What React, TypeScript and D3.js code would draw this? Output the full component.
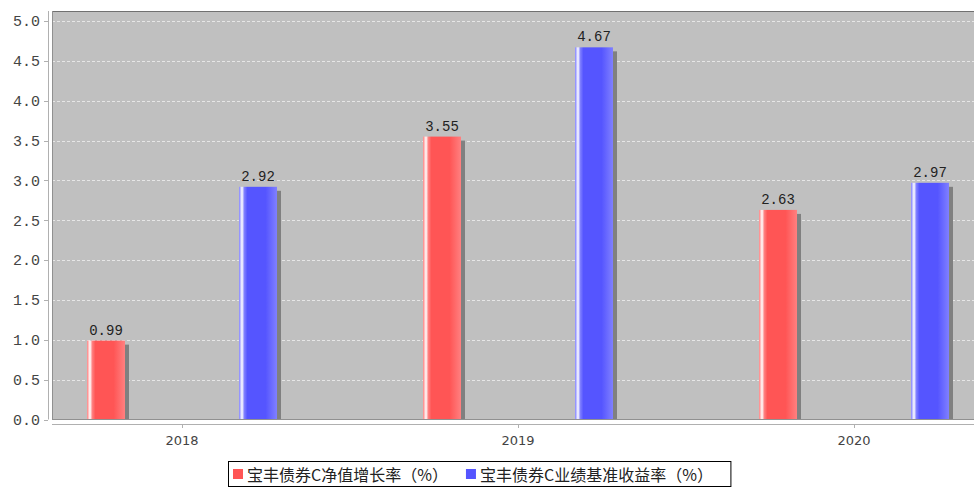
import { useEffect, useRef } from 'react'
import * as d3 from 'd3'

const years = ['2018', '2019', '2020']
const seriesNames = ['宝丰债券C净值增长率（%）', '宝丰债券C业绩基准收益率（%）']
const navGrowth = [0.99, 3.55, 2.63]
const benchmarkReturn = [2.92, 4.67, 2.97]
const yTicks = [0, 0.5, 1, 1.5, 2, 2.5, 3, 3.5, 4, 4.5, 5]

const W = 974
const H = 487

export default function App() {
  const svgRef = useRef<SVGSVGElement | null>(null)

  useEffect(() => {
    const svgElement = svgRef.current
    if (!svgElement) return
    const svg = d3.select(svgElement)
    svg.selectAll('*').remove()

    const plot = { left: 52, top: 11, right: 975, bottom: 419.5 }
    const series = [
      { name: seriesNames[0], values: navGrowth, base: '#ff5555', light: '#ff8080', id: 'gRed' },
      { name: seriesNames[1], values: benchmarkReturn, base: '#5555ff', light: '#8080ff', id: 'gBlue' },
    ]

    const defs = svg.append('defs')
    series.forEach((s) => {
      const g = defs.append('linearGradient').attr('id', s.id).attr('x1', 0).attr('x2', 1).attr('y1', 0).attr('y2', 0)
      g.append('stop').attr('offset', '0%').attr('stop-color', s.light)
      g.append('stop').attr('offset', '8%').attr('stop-color', '#ffffff')
      g.append('stop').attr('offset', '14%').attr('stop-color', s.light)
      g.append('stop').attr('offset', '22%').attr('stop-color', s.base)
      g.append('stop').attr('offset', '70%').attr('stop-color', s.base)
      g.append('stop').attr('offset', '100%').attr('stop-color', s.light)
    })
    defs
      .append('clipPath')
      .attr('id', 'plotClip')
      .append('rect')
      .attr('x', plot.left)
      .attr('y', plot.top)
      .attr('width', plot.right - plot.left)
      .attr('height', plot.bottom - plot.top)

    const y = d3.scaleLinear().domain([0, 5.126]).range([plot.bottom, plot.top])
    const x = d3.scalePoint<string>().domain(years).range([plot.left + 130, plot.right - 121])
    const sub = d3.scaleBand<number>().domain([0, 1]).range([-95, 95]).paddingInner(0.75).paddingOuter(0)

    // plot background
    svg
      .append('rect')
      .attr('x', plot.left)
      .attr('y', plot.top)
      .attr('width', plot.right - plot.left)
      .attr('height', plot.bottom - plot.top)
      .attr('fill', '#c0c0c0')

    // gridlines
    svg
      .append('g')
      .selectAll('line')
      .data(yTicks.filter((d) => d > 0))
      .join('line')
      .attr('x1', plot.left)
      .attr('x2', plot.right)
      .attr('y1', (d) => Math.round(y(d)) + 0.5)
      .attr('y2', (d) => Math.round(y(d)) + 0.5)
      .attr('stroke', '#e6e6e6')
      .attr('stroke-dasharray', '3,2')

    const bars = svg.append('g').attr('clip-path', 'url(#plotClip)')
    const flat = series.flatMap((s, si) =>
      s.values.map((v, i) => ({ v, si, year: years[i], fill: `url(#${s.id})` }))
    )

    // shadows
    bars
      .selectAll('rect.shadow')
      .data(flat)
      .join('rect')
      .attr('class', 'shadow')
      .attr('x', (d) => x(d.year)! + sub(d.si)! + 4)
      .attr('y', (d) => y(d.v) + 4)
      .attr('width', sub.bandwidth())
      .attr('height', (d) => plot.bottom - y(d.v))
      .attr('fill', '#808080')

    bars
      .selectAll('rect.bar')
      .data(flat)
      .join('rect')
      .attr('class', 'bar')
      .attr('x', (d) => x(d.year)! + sub(d.si)!)
      .attr('y', (d) => y(d.v))
      .attr('width', sub.bandwidth())
      .attr('height', (d) => plot.bottom - y(d.v))
      .attr('fill', (d) => d.fill)

    // value labels
    svg
      .append('g')
      .selectAll('text')
      .data(flat)
      .join('text')
      .attr('x', (d) => x(d.year)! + sub(d.si)! + sub.bandwidth() / 2)
      .attr('y', (d) => y(d.v) - 6)
      .attr('text-anchor', 'middle')
      .attr('font-family', '"Liberation Mono", monospace')
      .attr('font-size', 14)
      .attr('fill', '#222')
      .text((d) => d.v.toFixed(2))

    // plot outline (top + left)
    svg
      .append('line')
      .attr('x1', plot.left)
      .attr('x2', plot.right)
      .attr('y1', plot.top + 0.5)
      .attr('y2', plot.top + 0.5)
      .attr('stroke', '#707070')
    svg
      .append('line')
      .attr('x1', plot.left + 0.5)
      .attr('x2', plot.left + 0.5)
      .attr('y1', plot.top)
      .attr('y2', plot.bottom)
      .attr('stroke', '#909090')
    svg
      .append('line')
      .attr('x1', plot.left)
      .attr('x2', plot.right)
      .attr('y1', plot.bottom)
      .attr('y2', plot.bottom)
      .attr('stroke', '#909090')

    // y axis
    const yAxis = svg.append('g')
    yAxis
      .append('line')
      .attr('x1', 48.5)
      .attr('x2', 48.5)
      .attr('y1', plot.top)
      .attr('y2', plot.bottom)
      .attr('stroke', '#b0b0b0')
    yAxis
      .selectAll('line.tick')
      .data(yTicks)
      .join('line')
      .attr('class', 'tick')
      .attr('x1', 44)
      .attr('x2', 48)
      .attr('y1', (d) => Math.round(y(d)) + 0.5)
      .attr('y2', (d) => Math.round(y(d)) + 0.5)
      .attr('stroke', '#b0b0b0')
    yAxis
      .selectAll('text')
      .data(yTicks)
      .join('text')
      .attr('x', 40)
      .attr('y', (d) => y(d))
      .attr('dy', '0.35em')
      .attr('text-anchor', 'end')
      .attr('font-family', '"Liberation Mono", monospace')
      .attr('font-size', 15)
      .attr('fill', '#444')
      .text((d) => d.toFixed(1))

    // x axis
    const xAxis = svg.append('g')
    xAxis
      .append('line')
      .attr('x1', plot.left)
      .attr('x2', plot.right)
      .attr('y1', 424.5)
      .attr('y2', 424.5)
      .attr('stroke', '#b0b0b0')
    xAxis
      .selectAll('line.tick')
      .data(years)
      .join('line')
      .attr('class', 'tick')
      .attr('x1', (d) => x(d)! + 0.5)
      .attr('x2', (d) => x(d)! + 0.5)
      .attr('y1', 425)
      .attr('y2', 428)
      .attr('stroke', '#b0b0b0')
    xAxis
      .selectAll('text')
      .data(years)
      .join('text')
      .attr('x', (d) => x(d)!)
      .attr('y', 445)
      .attr('text-anchor', 'middle')
      .attr('font-family', '"DejaVu Sans", sans-serif')
      .attr('font-size', 13)
      .attr('fill', '#444')
      .text((d) => d)

    // legend
    const legend = svg.append('g')
    const legendBox = legend
      .append('rect')
      .attr('fill', '#fff')
      .attr('stroke', '#000')
    let cursor = 233
    series.forEach((s) => {
      legend
        .append('rect')
        .attr('x', cursor)
        .attr('y', 469)
        .attr('width', 10)
        .attr('height', 10)
        .attr('fill', s.base)
      const t = legend
        .append('text')
        .attr('x', cursor + 14)
        .attr('y', 481)
        .attr('font-family', '"Noto Sans CJK SC", sans-serif')
        .attr('font-size', 16)
        .attr('fill', '#222')
        .text(s.name)
      const len = (t.node() as SVGTextElement).getComputedTextLength()
      cursor += 14 + len + 18
    })
    legendBox
      .attr('x', 228.5)
      .attr('y', 461.5)
      .attr('width', cursor - 18 + 18 - 228.5)
      .attr('height', 25)
  }, [])

  return (
    <svg
      ref={svgRef}
      width={W}
      height={H}
      viewBox={`0 0 ${W} ${H}`}
      style={{ position: 'absolute', left: 0, top: 0, background: '#fff' }}
    />
  )
}
